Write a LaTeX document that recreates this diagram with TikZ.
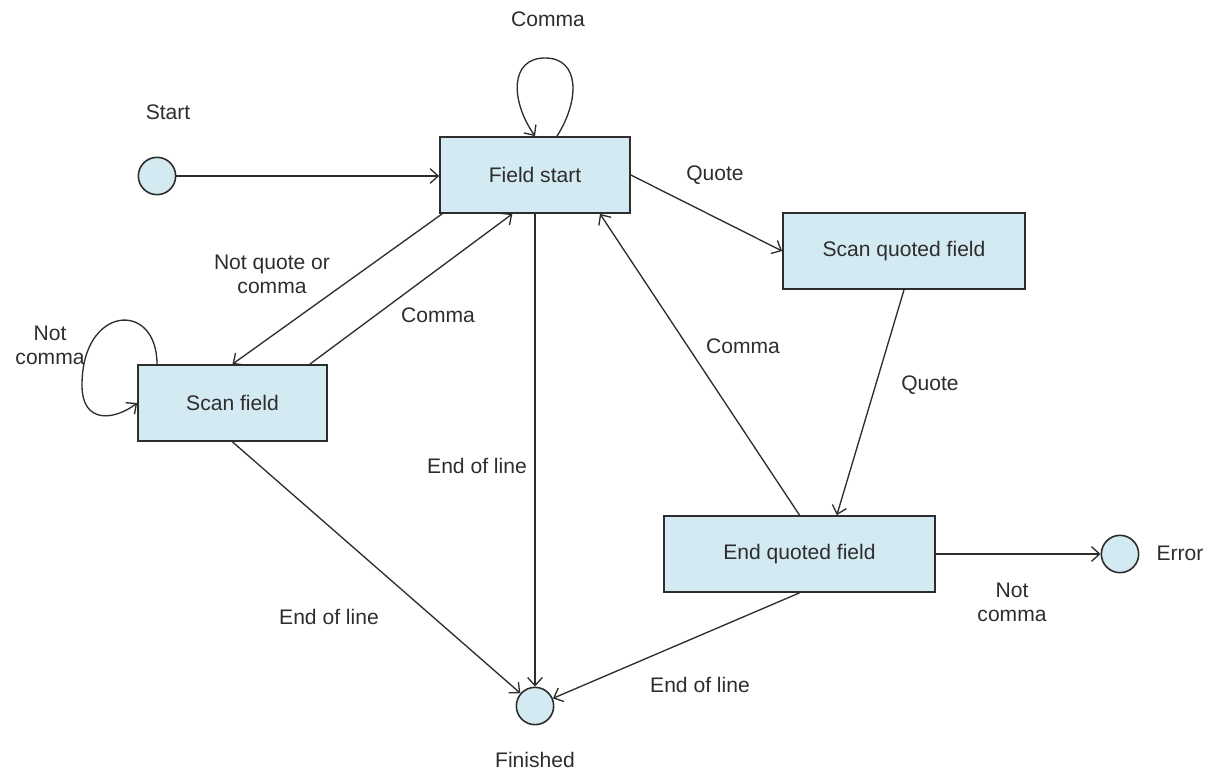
\documentclass[tikz,border=0pt]{standalone}
\usepackage{fontspec}
\setmainfont{Liberation Sans}
\usetikzlibrary{arrows.meta,calc}
\definecolor{boxfill}{RGB}{211,234,242}
\definecolor{linecol}{RGB}{45,45,45}
\definecolor{txtcol}{RGB}{45,45,45}
\begin{document}
\begin{tikzpicture}[x=0.75pt,y=-0.75pt,
  every node/.style={font=\fontsize{15.8}{18}\selectfont, text=txtcol},
  statebox/.style={draw=linecol, line width=1.3pt, fill=boxfill, rectangle,
    inner sep=0pt, minimum height=57pt},
  statecirc/.style={draw=linecol, line width=1.2pt, fill=boxfill, circle,
    inner sep=0pt, minimum size=28pt},
  lbl/.style={align=center, inner sep=0pt},
  arr/.style={draw=linecol, line width=1pt,
    -{Straight Barb[length=6pt,width=11pt,line width=1pt]}}
]
\useasboundingbox (0,0) rectangle (1207,772);

% states
\node[statecirc] (start) at (157,176) {};
\node[statebox, minimum width=142.5pt] (fs) at (535,175) {Field start};
\node[statebox, minimum width=181.5pt] (sq) at (904,251) {Scan quoted field};
\node[statebox, minimum width=141.75pt] (sf) at (232.5,403) {Scan field};
\node[statebox, minimum width=203.25pt] (eq) at (799.5,554) {End quoted field};
\node[statecirc] (err) at (1120,554) {};
\node[statecirc] (fin) at (535,706) {};

% state labels
\node[lbl] (lstart) at (168,112) {Start};
\node[lbl] (lerr) at (1180,553) {Error};
\node[lbl] (lfin) at (535,760) {Finished};

% connectors
\draw[arr] (start.east) -- (start.east -| fs.west);
\draw[arr] ([xshift=16.5pt]fs.north) .. controls (580,100) and (580,58) .. (545,58)
           .. controls (510,58) and (510,100) .. (fs.north);
\draw[arr] (fs.east) -- (sq.west);
\draw[arr] (sq.south) -- ([xshift=28pt]eq.north);
\draw[arr] (eq.north) -- ([xshift=48.75pt]fs.south);
\draw[arr] ([xshift=2.25pt]fs.south west) -- (sf.north);
\draw[arr] ([xshift=58pt]sf.north) -- ([xshift=-17pt]fs.south);
\draw[arr] (sf.north -| 157,0) .. controls (157,300) and (82,305) .. (82,385)
           .. controls (82,425) and (115,420) .. (sf.west |- 0,403);
\draw[arr] (fs.south) -- (fin.north);
\draw[arr] (sf.south) -- (fin);
\draw[arr] (eq.south) -- (fin);
\draw[arr] (eq.east) -- (err.west);

% edge labels
\node[lbl] (l1) at (548,19) {Comma};
\node[lbl] (l2) at (715,175) {Quote};
\node[lbl] (l3) at (272,274) {Not quote or\\comma};
\node[lbl] (l4) at (438,315) {Comma};
\node[lbl] (l5) at (50,345) {Not\\comma};
\node[lbl] (l6) at (743,346) {Comma};
\node[lbl] (l7) at (930,385) {Quote};
\node[lbl] (l8) at (477,466) {End of line};
\node[lbl] (l9) at (329,617) {End of line};
\node[lbl] (l10) at (700,685) {End of line};
\node[lbl] (l11) at (1012,602) {Not\\comma};
\end{tikzpicture}
\end{document}
